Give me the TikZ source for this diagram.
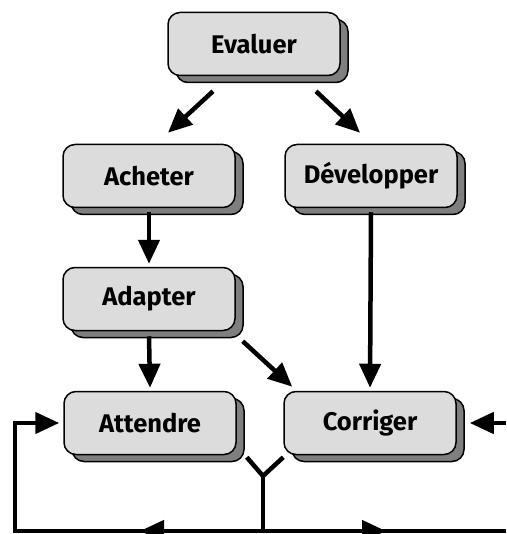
\documentclass[tikz,border=0pt]{standalone}
\usepackage{fontspec}
\setmainfont{Fira Sans}
\usetikzlibrary{shadows,calc,arrows.meta}
\definecolor{boxfill}{HTML}{DCDCDC}
\definecolor{shadowfill}{HTML}{7F7F7F}
\tikzset{
  stepbox/.style={draw=black, line width=1.5pt, fill=boxfill, rounded corners=12pt,
    minimum width=172pt, minimum height=63pt, inner sep=0pt,
    font=\fontsize{25.5}{28}\selectfont\bfseries,
    copy shadow={shadow xshift=8pt, shadow yshift=-7pt, fill=shadowfill, draw=black, line width=1.5pt}},
  arr/.style={line width=4.5pt, -{Triangle[length=24pt,width=21pt]}},
  ln/.style={line width=4.5pt},
}
\begin{document}
\begin{tikzpicture}[x=1pt,y=-1pt]
\useasboundingbox (0,0) rectangle (506,534);
\node[stepbox] (ev) at (254,44) {Evaluer};
\node[stepbox] (ach) at (149,176) {Acheter};
\node[stepbox] (dev) at (371,176) {Développer};
\node[stepbox] (adp) at (149,299) {Adapter};
\node[stepbox] (att) at (150,423) {Attendre};
\node[stepbox] (cor) at (370,423) {Corriger};
\coordinate (j) at (263,476);
\coordinate (jb) at (263,531);
\coordinate (bl) at (15,531);
\coordinate (br) at (506,531);
\coordinate (tl) at (15,423);
\coordinate (rr) at (506,423);
\draw[arr] ($(ev.south)+(-41,15)$) -- ($(ach.north)+(19,-11)$);
\draw[arr] ($(ev.south)+(62,15)$) -- ($(dev.north)+(-11,-11)$);
\draw[arr] ($(ach.south)+(0,4)$) -- ($(adp.north)+(0,-3)$);
\draw[arr] ($(dev.south)+(0,4)$) -- ($(cor.north)+(0,-3)$);
\draw[arr] ($(adp.south)+(0,5)$) -- ($(att.north)+(0,-3)$);
\draw[arr] ($(adp.south east)+(7,10)$) -- ($(cor.north west)+(9,-4)$);
\draw[ln] ($(att.south east)+(10,2)$) -- (j) -- ($(cor.south west)+(0,2)$);
\draw[ln] (j) -- (jb);
\draw[ln] (br) -- (bl) -- (tl);
\draw[arr] ($(tl)+(-2.25,0)$) -- ($(att.west)+(-4,0)$);
\draw[arr] (rr) -- ($(cor.east)+(13,0)$);
\draw[arr] ($(jb)+(-90,0)$) -- ($(jb)+(-123,0)$);
\draw[arr] ($(jb)+(90,0)$) -- ($(jb)+(123,0)$);
\end{tikzpicture}
\end{document}
